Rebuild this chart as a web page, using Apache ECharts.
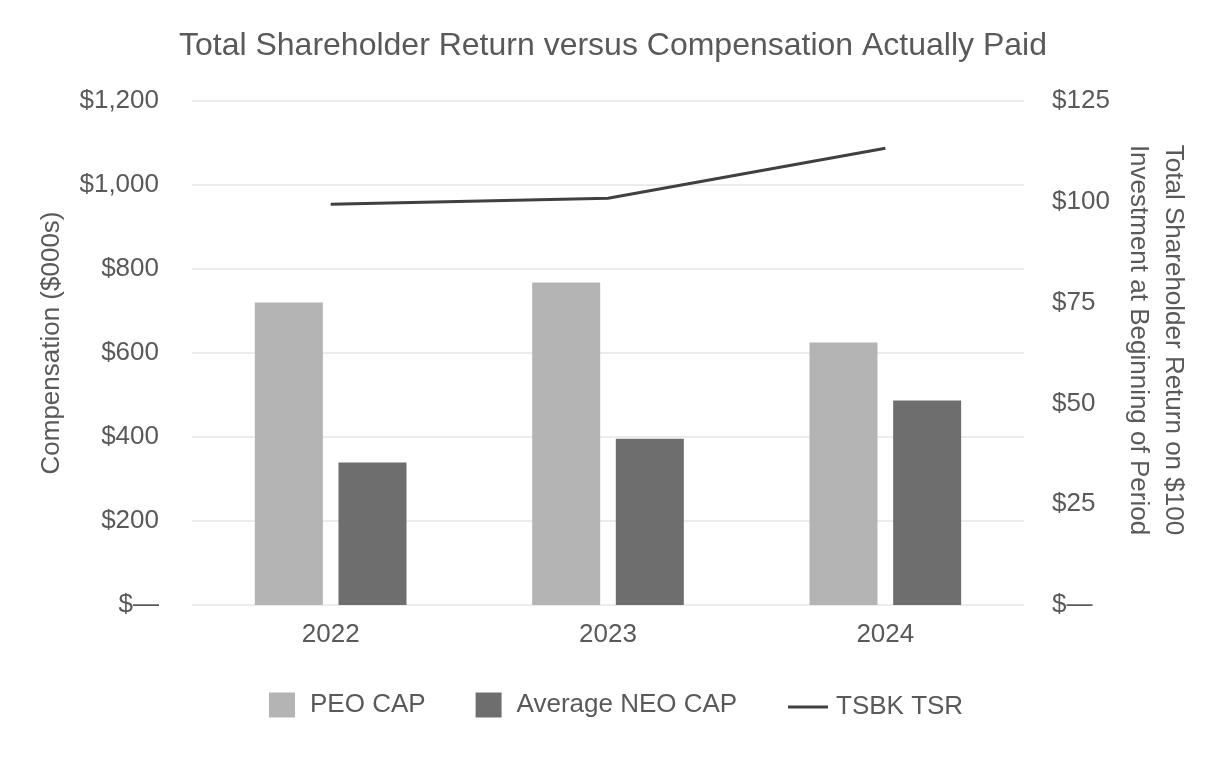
<!DOCTYPE html>
<html>
<head>
<meta charset="utf-8">
<style>
  html, body { margin: 0; padding: 0; background: #fff; }
  #chart { width: 1226px; height: 760px; }
</style>
<script src="https://cdn.jsdelivr.net/npm/echarts@6/dist/echarts.min.js"></script>
</head>
<body>
<div id="chart"></div>
<script>
// data
const years = ['2022', '2023', '2024']
const peoCap = [720, 768, 625]        // $000s
const neoCap = [339, 396, 487]        // $000s
const tsbkTsr = [99.4, 100.9, 113.3]  // value of $100
const leftTicks = ['$—', '$200', '$400', '$600', '$800', '$1,000', '$1,200']
const rightTicks = ['$—', '$25', '$50', '$75', '$100', '$125']

const FONT = '"Liberation Sans", Arial, sans-serif'
const TXT = '#595959'

const option = {
  animation: false,
  backgroundColor: '#ffffff',
  textStyle: { fontFamily: FONT },
  title: {
    text: 'Total Shareholder Return versus Compensation Actually Paid',
    left: 'center',
    top: 25,
    textStyle: { color: TXT, fontSize: 32, fontWeight: 'normal', fontFamily: FONT },
  },
  // two legends so the line icon can be wider than the squares
  legend: [
    {
      data: ['PEO CAP', 'Average NEO CAP'],
      icon: 'rect',
      left: 269,
      top: 692,
      padding: 0,
      itemWidth: 26,
      itemHeight: 25,
      itemGap: 50,
      textStyle: { color: TXT, fontSize: 26, fontFamily: FONT, padding: [0, 0, 0, 10] },
    },
    {
      data: ['TSBK TSR'],
      icon: 'rect',
      left: 788,
      top: 694,
      padding: 0,
      itemWidth: 40,
      itemHeight: 3,
      textStyle: { color: TXT, fontSize: 26, fontFamily: FONT, padding: [0, 0, 0, 3] },
    },
  ],
  grid: { left: 192, right: 202, top: 101, bottom: 155, containLabel: false },
  xAxis: {
    type: 'category',
    data: years,
    axisLine: { show: false },
    axisTick: { show: false },
    axisLabel: { color: TXT, fontSize: 26, margin: 17, fontFamily: FONT },
  },
  yAxis: [
    {
      type: 'value',
      min: 0,
      max: 1200,
      interval: 200,
      name: 'Compensation ($000s)',
      nameLocation: 'middle',
      nameRotate: 90,
      nameGap: 127,
      nameTextStyle: { color: TXT, fontSize: 26, fontFamily: FONT, padding: [0, 0, 0, 20] },
      axisLine: { show: false },
      axisTick: { show: false },
      axisLabel: {
        color: TXT,
        fontSize: 26,
        margin: 33,
        fontFamily: FONT,
        formatter: (v) => leftTicks[Math.round(v / 200)],
      },
      splitLine: { lineStyle: { color: '#e6e6e6', width: 1.5 } },
    },
    {
      type: 'value',
      min: 0,
      max: 125,
      interval: 25,
      position: 'right',
      name: 'Total Shareholder Return on $100\nInvestment at Beginning of Period',
      nameLocation: 'middle',
      nameRotate: -90,
      nameGap: 97,
      nameTextStyle: { color: TXT, fontSize: 26, lineHeight: 35, fontFamily: FONT, padding: [0, 26, 0, 0] },
      axisLine: { show: false },
      axisTick: { show: false },
      axisLabel: {
        color: TXT,
        fontSize: 26,
        margin: 28,
        fontFamily: FONT,
        formatter: (v) => rightTicks[Math.round(v / 25)],
      },
      splitLine: { show: false },
    },
  ],
  series: [
    {
      name: 'PEO CAP',
      type: 'bar',
      barWidth: 68,
      barGap: '23%',
      itemStyle: { color: '#b4b4b4' },
      data: peoCap,
    },
    {
      name: 'Average NEO CAP',
      type: 'bar',
      barWidth: 68,
      barGap: '23%',
      itemStyle: { color: '#6e6e6e' },
      data: neoCap,
    },
    {
      name: 'TSBK TSR',
      type: 'line',
      yAxisIndex: 1,
      symbol: 'none',
      lineStyle: { color: '#404040', width: 3 },
      itemStyle: { color: '#404040' },
      data: tsbkTsr,
    },
  ],
}
echarts.init(document.getElementById('chart')).setOption(option)
</script>
</body>
</html>
